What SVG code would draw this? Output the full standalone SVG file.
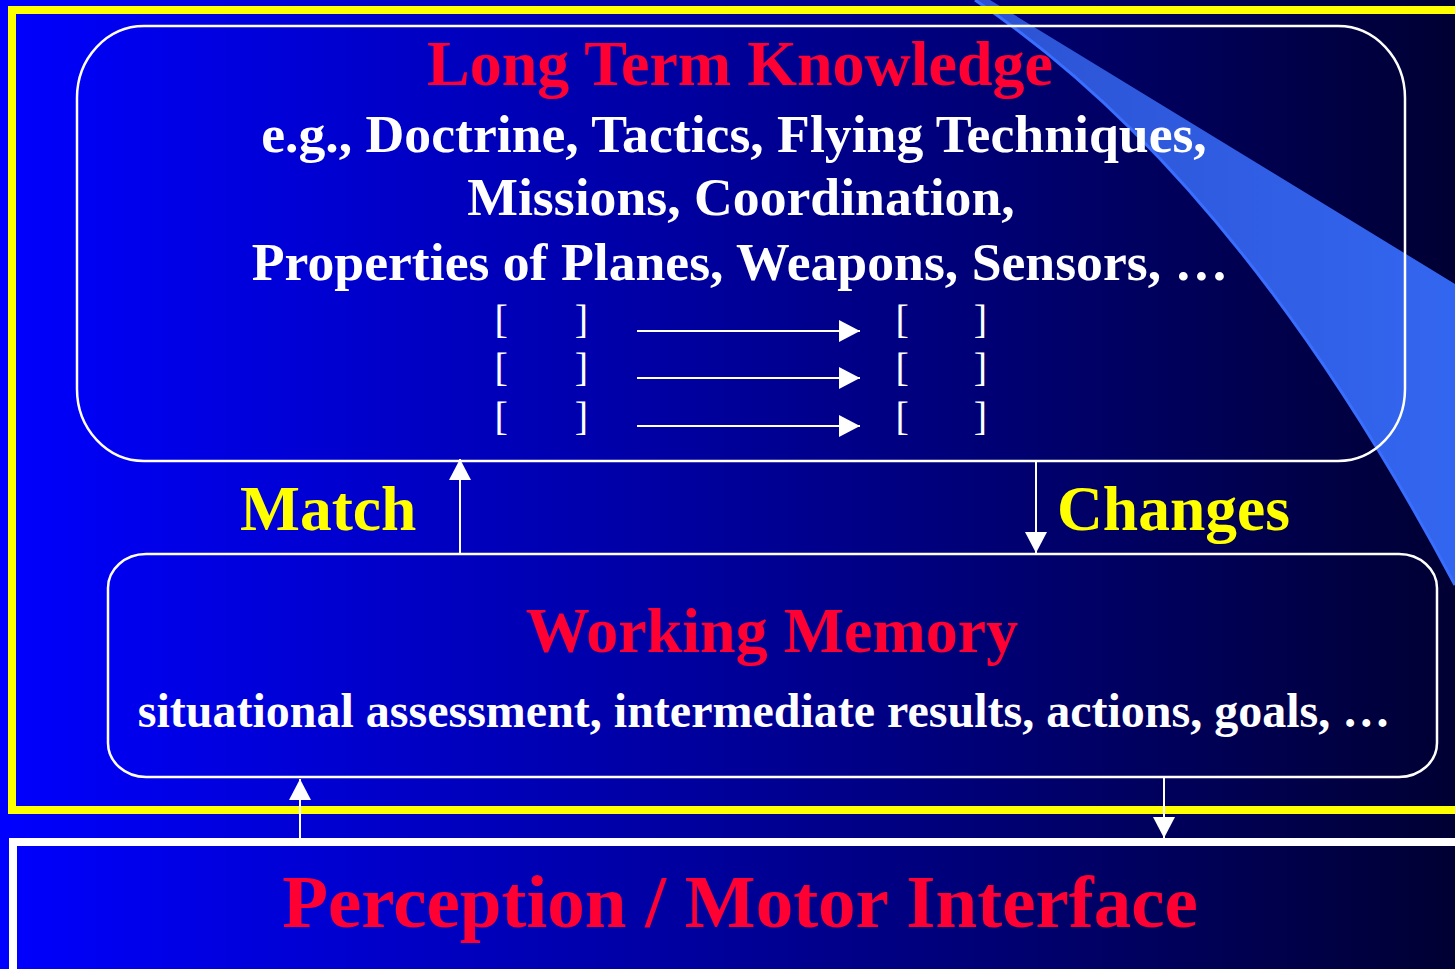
<svg xmlns="http://www.w3.org/2000/svg" width="1455" height="969" viewBox="0 0 1455 969">
  <defs>
    <linearGradient id="bg" x1="0" y1="0" x2="1455" y2="0" gradientUnits="userSpaceOnUse">
      <stop offset="0" stop-color="#0000ff"/>
      <stop offset="1" stop-color="#000033"/>
    </linearGradient>
    <linearGradient id="swooshFill" x1="975" y1="0" x2="1455" y2="0" gradientUnits="userSpaceOnUse">
      <stop offset="0" stop-color="#2c52d2"/>
      <stop offset="1" stop-color="#3366f0"/>
    </linearGradient>
    <marker id="head" markerUnits="userSpaceOnUse" markerWidth="21" markerHeight="22" refX="21" refY="11" orient="auto">
      <path d="M0,0 L21,11 L0,22 Z" fill="#ffffff"/>
    </marker>
    <style>
      .serif { font-family: "Liberation Serif", "Times New Roman", serif; }
      .title { font-weight: bold; fill: #ff0033; text-anchor: middle; }
      .body { font-weight: bold; fill: #ffffff; text-anchor: middle; font-size: 53.7px; }
      .label { font-weight: bold; fill: #ffff00; font-size: 63.5px; }
      .bracket { fill: #ffffff; font-size: 40px; }
      .box { fill: none; stroke: #ffffff; stroke-width: 2.5; }
      .conn { stroke: #ffffff; stroke-width: 2; fill: none; marker-end: url(#head); }
    </style>
  </defs>

  <!-- backdrop -->
  <rect x="0" y="0" width="1455" height="969" fill="url(#bg)"/>

  <!-- decorative swoosh in the upper right -->
  <path d="M975,0 Q1237,175 1455,585 L1455,284 L990,0 Z" fill="url(#swooshFill)"/>
  <path d="M975,0 Q1237,175 1455,585" fill="none" stroke="#3a6eff" stroke-width="3"/>

  <!-- yellow frame around the knowledge / memory part -->
  <rect x="12" y="10" width="1480" height="800" fill="none" stroke="#ffff00" stroke-width="8"/>

  <!-- Long Term Knowledge -->
  <g id="long-term-knowledge">
    <rect class="box" x="77" y="26" width="1328" height="435" rx="67" ry="72"/>
    <text class="serif title" x="740" y="85" font-size="64">Long Term Knowledge</text>
    <text class="serif body" x="734" y="152">e.g., Doctrine, Tactics, Flying Techniques,</text>
    <text class="serif body" x="741" y="215">Missions, Coordination,</text>
    <text class="serif body" x="740" y="280">Properties of Planes, Weapons, Sensors, …</text>
    <g class="serif bracket">
      <text x="494.5" y="333">[</text><text x="574.7" y="333">]</text>
      <text x="895.5" y="333">[</text><text x="973.7" y="333">]</text>
      <text x="494.5" y="381">[</text><text x="574.7" y="381">]</text>
      <text x="895.5" y="381">[</text><text x="973.7" y="381">]</text>
      <text x="494.5" y="430">[</text><text x="574.7" y="430">]</text>
      <text x="895.5" y="430">[</text><text x="973.7" y="430">]</text>
    </g>
  </g>

  <!-- Working Memory -->
  <g id="working-memory">
    <rect class="box" x="108" y="554" width="1329" height="223" rx="38" ry="34"/>
    <text class="serif title" x="772" y="652" font-size="64">Working Memory</text>
    <text class="serif" x="764" y="727" font-size="48" font-weight="bold" fill="#ffffff" text-anchor="middle">situational assessment, intermediate results, actions, goals, …</text>
  </g>

  <!-- Perception / Motor Interface -->
  <g id="perception-motor">
    <rect x="13" y="842" width="1480" height="200" fill="none" stroke="#ffffff" stroke-width="8"/>
    <text class="serif title" x="740" y="927" font-size="75">Perception / Motor Interface</text>
  </g>

  <!-- connectors -->
  <g id="connectors">
    <line class="conn" x1="637" y1="331" x2="860" y2="331"/>
    <line class="conn" x1="637" y1="378" x2="860" y2="378"/>
    <line class="conn" x1="637" y1="426" x2="860" y2="426"/>
    <line class="conn" x1="460" y1="553" x2="460" y2="459"/>
    <line class="conn" x1="1036" y1="462" x2="1036" y2="553"/>
    <line class="conn" x1="300" y1="838" x2="300" y2="779"/>
    <line class="conn" x1="1164" y1="778" x2="1164" y2="838"/>
  </g>

  <!-- connector labels -->
  <g id="labels">
    <text class="serif label" x="240" y="530">Match</text>
    <text class="serif label" x="1057" y="530">Changes</text>
  </g>
</svg>
